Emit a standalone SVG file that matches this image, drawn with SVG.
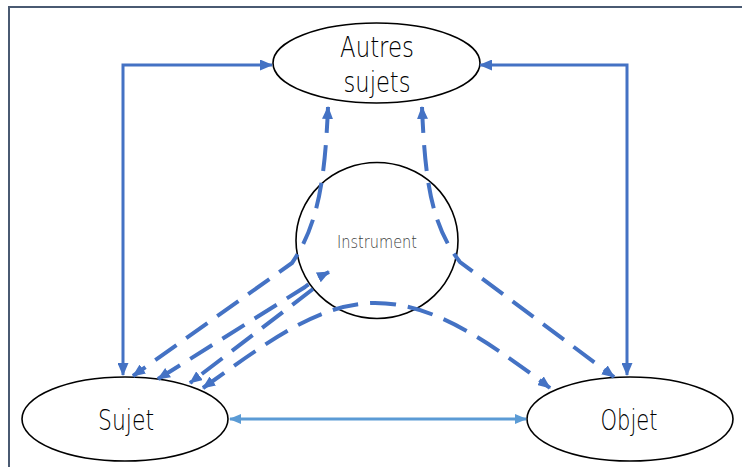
<svg xmlns="http://www.w3.org/2000/svg" width="742" height="467" viewBox="0 0 742 467">
<style>
.node{fill:#fff;stroke:#000;stroke-width:1.6}
.lbl{font-family:"DejaVu Sans","Liberation Sans",sans-serif;font-weight:200;fill:#000;text-anchor:middle}
.solid{fill:none;stroke:#4472c4;stroke-width:3}
.dash{fill:none;stroke:#4472c4;stroke-width:4;stroke-dasharray:26 12}
.light{fill:none;stroke:#5b9bd5;stroke-width:3}
</style>
<defs>
<marker id="ah" viewBox="0 0 13 11" refX="12" refY="5.5" markerWidth="13" markerHeight="11" markerUnits="userSpaceOnUse" orient="auto-start-reverse">
<path d="M0,0 L13,5.5 L0,11 z" fill="#4472c4"/>
</marker>
<marker id="ahl" viewBox="0 0 12 10" refX="11" refY="5" markerWidth="12" markerHeight="10" markerUnits="userSpaceOnUse" orient="auto-start-reverse">
<path d="M0,0 L12,5 L0,10 z" fill="#5b9bd5"/>
</marker>
</defs>
<rect x="9" y="7" width="760" height="480" fill="#fff" stroke="#4a5a72" stroke-width="2"/>
<g id="autres">
<ellipse class="node" cx="376.5" cy="63" rx="103.5" ry="40"/>
<text class="lbl" x="377" y="57" font-size="28" textLength="74" lengthAdjust="spacingAndGlyphs">Autres</text>
<text class="lbl" x="377" y="92" font-size="28" textLength="67" lengthAdjust="spacingAndGlyphs">sujets</text>
</g>
<g id="instrument">
<ellipse class="node" cx="377" cy="240.5" rx="81" ry="78"/>
<text class="lbl" x="377" y="248" font-size="17" style="fill:#404040" textLength="80" lengthAdjust="spacingAndGlyphs">Instrument</text>
</g>
<g id="sujet">
<ellipse class="node" cx="125" cy="419" rx="103" ry="42"/>
<text class="lbl" x="126" y="430" font-size="28" textLength="56" lengthAdjust="spacingAndGlyphs">Sujet</text>
</g>
<g id="objet">
<ellipse class="node" cx="630" cy="419" rx="103" ry="42"/>
<text class="lbl" x="629" y="430" font-size="28" textLength="57" lengthAdjust="spacingAndGlyphs">Objet</text>
</g>
<g id="connectors">
<path class="solid" d="M123,375 L123,65 L272,65" marker-start="url(#ah)" marker-end="url(#ah)"/>
<path class="solid" d="M627,375 L627,65 L480,65" marker-start="url(#ah)" marker-end="url(#ah)"/>
<path class="light" d="M230,419 L526,419" marker-start="url(#ahl)" marker-end="url(#ahl)"/>
<path class="dash" d="M328,107 C325,180 318,225 292,263 L133,376" marker-start="url(#ah)" marker-end="url(#ah)"/>
<path class="dash" d="M422,107 C425,180 431,225 460,262 L614,377" marker-start="url(#ah)" marker-end="url(#ah)"/>
<path class="dash" d="M158,379 L305,287 Q315,279 329,272" marker-start="url(#ah)" marker-end="url(#ah)"/>
<path class="dash" d="M313,289 L190,383" marker-end="url(#ah)"/>
<path class="dash" d="M203,388 C270,340 320,303 375,303 C430,303 480,335 550,388" marker-start="url(#ah)" marker-end="url(#ah)"/>
</g>
</svg>
